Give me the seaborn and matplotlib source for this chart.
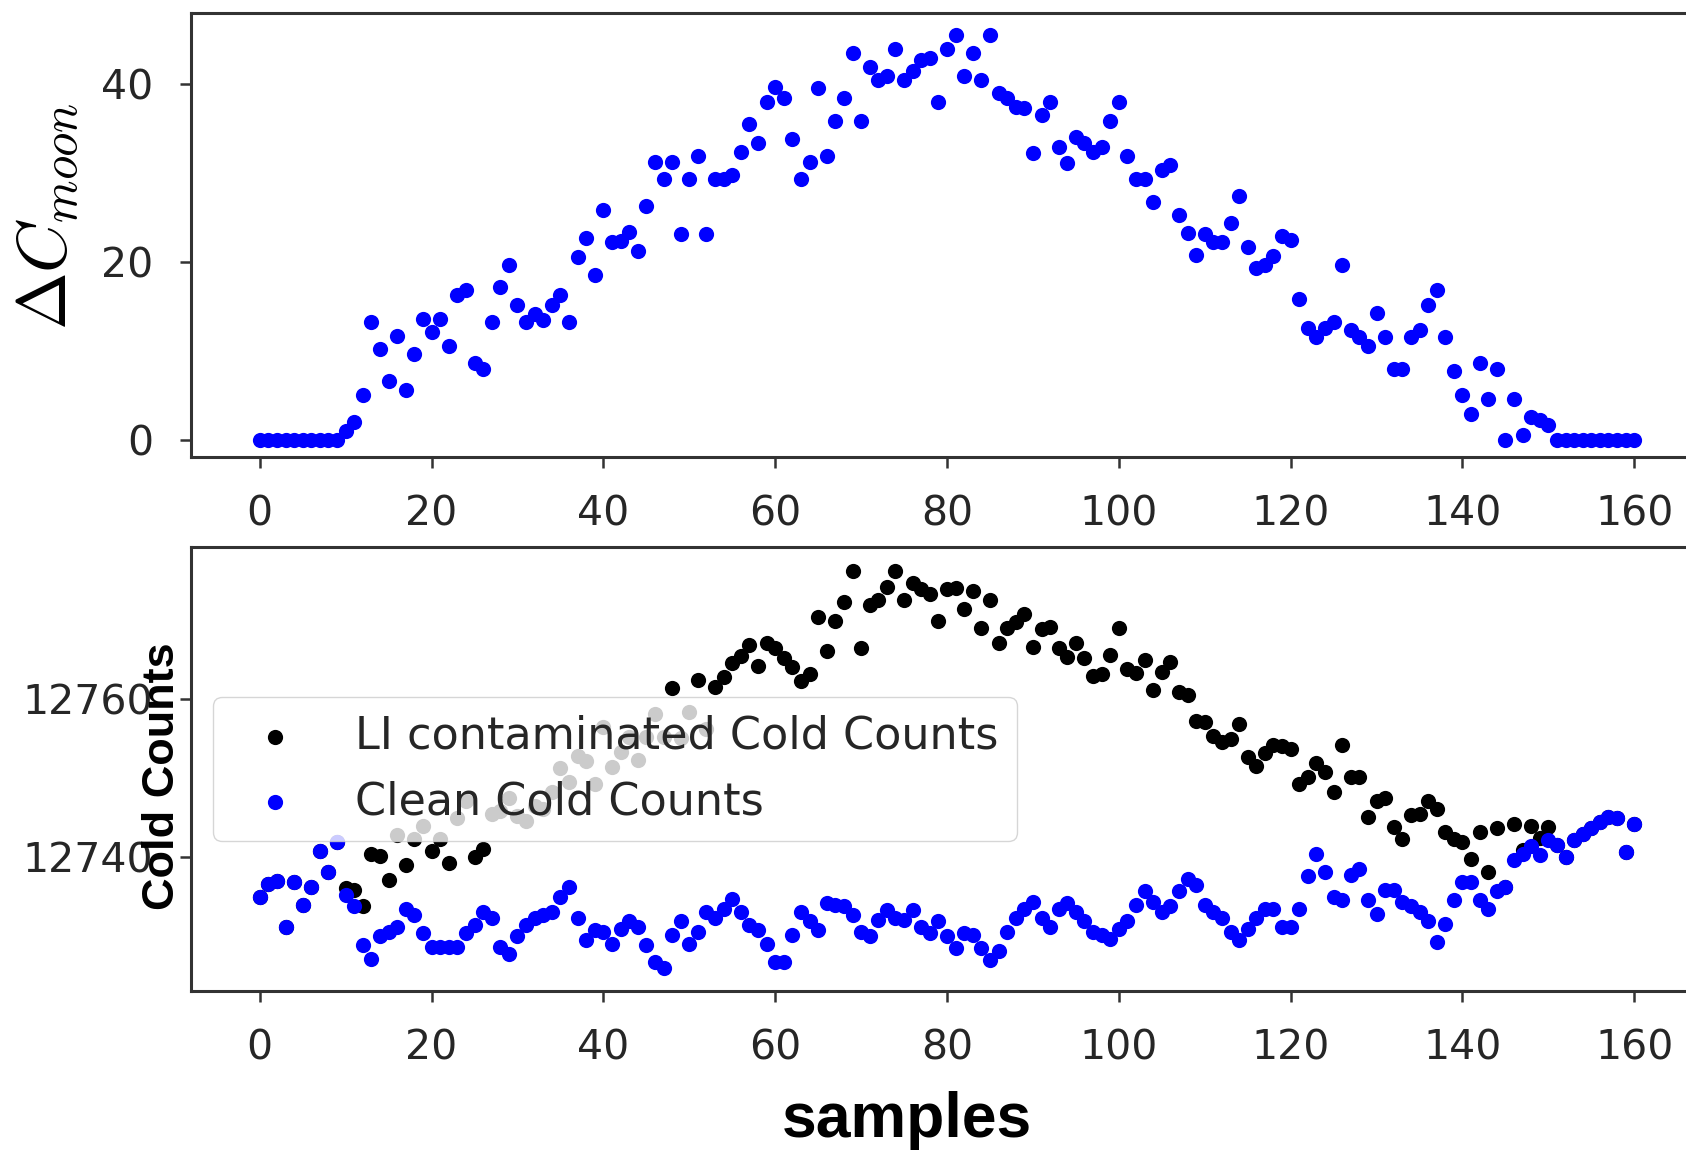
import numpy as np
import matplotlib
matplotlib.use("Agg")
import matplotlib.pyplot as plt
import seaborn as sns

samples = list(range(161))

delta_moon = [
    0, 0, 0, 0, 0, 0, 0, 0, 0, 0,
    1.0, 2.0, 5.0, 13.2, 10.2, 6.6, 11.7, 5.6, 9.6, 13.6,
    12.1, 13.6, 10.6, 16.3, 16.8, 8.6, 8.0, 13.2, 17.2, 19.7,
    15.2, 13.2, 14.2, 13.5, 15.2, 16.3, 13.2, 20.6, 22.7, 18.5,
    25.9, 22.3, 22.4, 23.4, 21.2, 26.3, 31.3, 29.3, 31.3, 23.2,
    29.3, 31.9, 23.2, 29.3, 29.3, 29.8, 32.4, 35.5, 33.4, 38.0,
    39.7, 38.5, 33.9, 29.3, 31.3, 39.6, 31.9, 35.9, 38.5, 43.5,
    35.9, 42.0, 40.5, 40.9, 44.0, 40.5, 41.5, 42.8, 43.0, 38.0,
    44.0, 45.6, 41.0, 43.5, 40.5, 45.6, 39.0, 38.5, 37.5, 37.3,
    32.3, 36.6, 38.0, 33.0, 31.2, 34.1, 33.4, 32.4, 33.0, 35.9,
    38.0, 31.9, 29.3, 29.3, 26.8, 30.4, 30.9, 25.3, 23.3, 20.8,
    23.2, 22.3, 22.3, 24.4, 27.4, 21.7, 19.3, 19.7, 20.7, 22.9,
    22.5, 15.8, 12.6, 11.6, 12.6, 13.3, 19.7, 12.4, 11.6, 10.5,
    14.3, 11.6, 8.0, 8.0, 11.6, 12.4, 15.2, 16.9, 11.6, 7.7,
    5.0, 2.9, 8.6, 4.6, 8.0, 0.0, 4.6, 0.5, 2.6, 2.2,
    1.6, 0, 0, 0, 0, 0, 0, 0, 0, 0, 0,
]

clean_counts = [
    12735.0, 12736.7, 12737.0, 12731.2, 12736.9, 12734.0, 12736.3, 12740.8, 12738.2, 12742.0,
    12735.2, 12733.9, 12728.9, 12727.2, 12730.0, 12730.6, 12731.2, 12733.5, 12732.7, 12730.4,
    12728.7, 12728.7, 12728.7, 12728.7, 12730.4, 12731.4, 12733.1, 12732.3, 12728.7, 12727.8,
    12730.0, 12731.4, 12732.3, 12732.7, 12733.1, 12735.0, 12736.3, 12732.3, 12729.5, 12730.8,
    12730.6, 12729.1, 12731.0, 12731.9, 12731.2, 12728.9, 12726.8, 12726.0, 12730.2, 12731.9,
    12729.1, 12730.6, 12733.1, 12732.3, 12733.5, 12734.8, 12733.1, 12731.4, 12730.8, 12729.1,
    12726.8, 12726.8, 12730.2, 12733.1, 12731.9, 12730.8, 12734.2, 12734.0, 12733.8, 12732.7,
    12730.6, 12730.0, 12732.1, 12733.3, 12732.3, 12732.1, 12733.3, 12731.2, 12730.4, 12731.9,
    12730.0, 12728.5, 12730.4, 12730.2, 12728.5, 12727.0, 12728.1, 12730.6, 12732.3, 12733.5,
    12734.4, 12732.3, 12731.2, 12733.5, 12734.2, 12733.1, 12731.9, 12730.6, 12730.2, 12729.7,
    12731.0, 12731.9, 12734.0, 12735.7, 12734.4, 12733.1, 12733.8, 12735.7, 12737.3, 12736.5,
    12734.0, 12733.1, 12732.3, 12730.6, 12729.5, 12731.0, 12732.3, 12733.5, 12733.5, 12731.2,
    12731.2, 12733.5, 12737.6, 12740.4, 12738.2, 12735.0, 12734.6, 12737.8, 12738.6, 12734.6,
    12732.9, 12735.9, 12735.9, 12734.4, 12733.8, 12733.1, 12731.9, 12729.3, 12731.6, 12734.6,
    12736.9, 12736.9, 12734.6, 12733.5, 12735.7, 12736.3, 12739.7, 12740.5, 12741.4, 12740.3,
    12742.2, 12741.6, 12740.1, 12742.2, 12743.0, 12743.7, 12744.5, 12745.1, 12745.0, 12740.7,
    12744.3,
]

contaminated_counts = [
    12735.0, 12736.7, 12737.0, 12731.2, 12736.9, 12734.0, 12736.3, 12740.8, 12738.2, 12742.0,
    12736.2, 12735.9, 12733.9, 12740.4, 12740.2, 12737.2, 12742.9, 12739.1, 12742.3, 12744.0,
    12740.8, 12742.3, 12739.3, 12745.0, 12747.2, 12740.0, 12741.1, 12745.5, 12745.9, 12747.5,
    12745.2, 12744.6, 12746.5, 12746.2, 12748.3, 12751.3, 12749.5, 12752.9, 12752.2, 12749.3,
    12756.5, 12751.4, 12753.4, 12755.3, 12752.4, 12755.2, 12758.1, 12755.3, 12761.5, 12755.1,
    12758.4, 12762.5, 12756.3, 12761.6, 12762.8, 12764.6, 12765.5, 12766.9, 12764.2, 12767.1,
    12766.5, 12765.3, 12764.1, 12762.4, 12763.2, 12770.4, 12766.1, 12769.9, 12772.3, 12776.2,
    12766.5, 12772.0, 12772.6, 12774.2, 12776.3, 12772.6, 12774.8, 12774.0, 12773.4, 12769.9,
    12774.0, 12774.1, 12771.4, 12773.7, 12769.0, 12772.6, 12767.1, 12769.1, 12769.8, 12770.8,
    12766.7, 12768.9, 12769.2, 12766.5, 12765.4, 12767.2, 12765.3, 12763.0, 12763.2, 12765.6,
    12769.0, 12763.8, 12763.3, 12765.0, 12761.2, 12763.5, 12764.7, 12761.0, 12760.6, 12757.3,
    12757.2, 12755.4, 12754.6, 12755.0, 12756.9, 12752.7, 12751.6, 12753.2, 12754.2, 12754.1,
    12753.7, 12749.3, 12750.2, 12752.0, 12750.8, 12748.3, 12754.3, 12750.2, 12750.2, 12745.1,
    12747.2, 12747.5, 12743.9, 12742.4, 12745.4, 12745.5, 12747.1, 12746.2, 12743.2, 12742.3,
    12741.9, 12739.8, 12743.2, 12738.1, 12743.7, 12736.3, 12744.3, 12741.0, 12744.0, 12742.5,
    12743.8, 12741.6, 12740.1, 12742.2, 12743.0, 12743.7, 12744.5, 12745.1, 12745.0, 12740.7,
    12744.3,
]

x_ticks = [0, 20, 40, 60, 80, 100, 120, 140, 160]
top_yticks = [0, 20, 40]
bottom_yticks = [12740, 12760]
legend_labels = ["LI contaminated Cold Counts", "Clean Cold Counts"]

sns.set_style("ticks")
plt.rcParams["font.family"] = ["DejaVu Sans"]
plt.rcParams["mathtext.fontset"] = "cm"

W, H = 1686, 1155
fig = plt.figure(figsize=(W / 100, H / 100), dpi=100)

left = 191 / W
width = (1703 - 191) / W
ax1 = fig.add_axes([left, 1 - 457 / H, width, (457 - 13) / H])
ax2 = fig.add_axes([left, 1 - 991 / H, width, (991 - 547) / H])

msize = 120
sns.scatterplot(x=samples, y=delta_moon, ax=ax1, color="#0000ff", s=msize,
                linewidth=0, legend=False)
sns.scatterplot(x=samples, y=contaminated_counts, ax=ax2, color="black", s=msize,
                linewidth=0, label=legend_labels[0])
sns.scatterplot(x=samples, y=clean_counts, ax=ax2, color="#0000ff", s=msize,
                linewidth=0, label=legend_labels[1])

spine_col = "#333333"
for ax in (ax1, ax2):
    ax.set_xlim(-8, 168)
    ax.set_xticks(x_ticks)
    ax.set_xlabel("")
    ax.set_ylabel("")
    for sp in ax.spines.values():
        sp.set_visible(True)
        sp.set_linewidth(2.2)
        sp.set_color(spine_col)
    ax.tick_params(axis="both", direction="out", length=8, width=1.8,
                   colors=spine_col, labelcolor="#262626", labelsize=29.5, pad=19)

ax1.set_ylim(-1.95, 48.05)
ax1.set_yticks(top_yticks)
ax2.set_ylim(12723.1, 12779.3)
ax2.set_yticks(bottom_yticks)

leg = ax2.legend(loc="center left", fontsize=32, frameon=True, framealpha=0.8,
                 edgecolor="#cccccc", fancybox=True, borderaxespad=0.5)
for t in leg.get_texts():
    t.set_color("#262626")

fig.text(48 / W, 1 - 217 / H, r"$\Delta C_{moon}$", rotation=90, fontsize=50,
         ha="center", va="center", color="black")
fig.text(162 / W, 1 - 776 / H, "Cold Counts", rotation=90, fontsize=32.5,
         fontweight="bold", family=["Liberation Sans", "DejaVu Sans"],
         ha="center", va="center", color="black")
fig.text(907 / W, 1 - 1137 / H, "samples", fontsize=45, fontweight="bold",
         family=["Liberation Sans", "DejaVu Sans"], ha="center", va="baseline",
         color="black")

fig.savefig("out.png", dpi=100)
